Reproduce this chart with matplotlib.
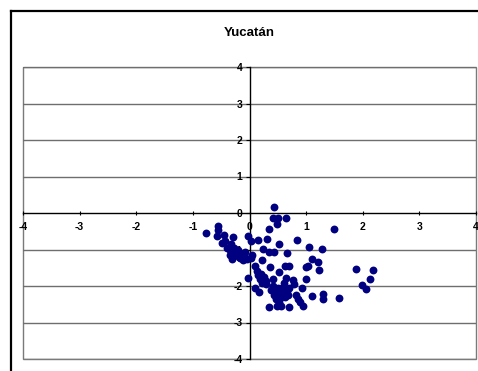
import matplotlib
matplotlib.use("Agg")
import matplotlib.pyplot as plt
from matplotlib.lines import Line2D
from matplotlib.patches import Rectangle

TITLE = "Yucatán"
TICKS = [-4, -3, -2, -1, 0, 1, 2, 3, 4]

# scatter values
x_vals = [0.44, 0.41, 0.50, 0.65, 0.49, 1.49, -0.76, -0.56, -0.55, -0.58,
          -0.48, -0.44, -0.30, -0.32, -0.28, -0.25, -0.35, -0.31, -0.22, -0.16,
          -0.12, -0.19, -0.03, 0.03, 0.15, 0.35, 0.31, 0.52, 0.84, 0.24,
          0.35, 0.44, 0.66, 1.05, 1.28, 0.03, 0.09, 0.22, 0.36, 0.52,
          0.62, 0.69, 0.14, 0.21, 0.25, -0.02, 0.19, 0.22, 0.10, 0.17,
          0.29, 0.41, 0.41, 0.50, 0.64, 0.61, 0.76, 0.78, 0.70, 0.56,
          0.60, 0.66, 0.48, 0.54, 0.46, 0.52, 0.49, 0.35, 0.56, 0.70,
          0.82, 0.85, 0.92, 0.89, 0.94, 1.00, 1.00, 1.03, 1.11, 1.21,
          1.23, 1.11, 1.29, 1.29, 1.58, 1.88, 1.99, 2.05, 2.13, 2.18,
          -0.40, -0.35, -0.20, -0.10, -0.05, -0.28, -0.18, 0.45, 0.55, 0.62,
          0.50, 0.58, 0.68, 0.43, 0.38, 0.30, 0.15, -0.45, -0.08, 0.05]
y_vals = [0.16, -0.14, -0.15, -0.14, -0.30, -0.44, -0.55, -0.35, -0.47, -0.64,
          -0.82, -0.77, -0.65, -0.86, -0.95, -1.05, -1.14, -1.27, -1.16, -1.23,
          -1.30, -1.07, -0.64, -0.77, -0.75, -0.45, -0.70, -0.85, -0.75, -0.98,
          -1.07, -1.07, -1.09, -0.92, -0.98, -1.24, -1.44, -1.30, -1.48, -1.62,
          -1.44, -1.44, -1.59, -1.68, -1.75, -1.77, -1.82, -1.93, -2.05, -2.16,
          -1.95, -1.82, -2.00, -2.05, -1.77, -1.91, -1.84, -1.94, -2.05, -2.11,
          -2.20, -2.14, -2.18, -2.32, -2.36, -2.45, -2.55, -2.58, -2.55, -2.58,
          -2.25, -2.36, -2.06, -2.45, -2.55, -1.82, -1.48, -1.44, -1.27, -1.35,
          -1.57, -2.27, -2.23, -2.35, -2.34, -1.53, -1.98, -2.09, -1.82, -1.57,
          -0.95, -1.00, -1.00, -1.15, -1.25, -1.12, -1.20, -2.10, -2.20, -2.30,
          -2.25, -2.05, -2.25, -2.25, -2.10, -1.85, -1.70, -0.60, -1.08, -1.15]

plt.rcParams["font.family"] = ["Liberation Sans", "DejaVu Sans"]

fig = plt.figure(figsize=(4.78, 3.71), dpi=100)
fig.patch.set_facecolor("white")

# outer chart frame (only left and top edges are visible)
fig.add_artist(Line2D([11 / 478, 11 / 478], [0, 1 - 11 / 371],
                      transform=fig.transFigure, color="black", lw=1.6))
fig.add_artist(Line2D([11 / 478, 1], [1 - 11 / 371, 1 - 11 / 371],
                      transform=fig.transFigure, color="black", lw=1.6))

fig.text(249 / 478, 1 - 33 / 371, TITLE, ha="center", va="center",
         fontsize=9.5, fontweight="heavy")

ax = fig.add_axes([23 / 478, 12 / 371, 453 / 478, 292 / 371])
ax.set_xlim(-4, 4)
ax.set_ylim(-4, 4)

for s in ("top", "right"):
    ax.spines[s].set_visible(False)
ax.spines["left"].set_position(("data", 0))
ax.spines["bottom"].set_position(("data", 0))
ax.spines["left"].set_linewidth(1.0)
ax.spines["bottom"].set_linewidth(1.0)
ax.add_patch(Rectangle((0, 0), 1, 1, transform=ax.transAxes, fill=False,
                       ec="#7a7a7a", lw=1.0, clip_on=False, zorder=0.5))

for t in TICKS:
    if t != 0:
        ax.axhline(t, color="#6e6e6e", lw=1.0, zorder=0.6)

ax.set_xticks(TICKS)
ax.set_yticks(TICKS)
ax.set_xticklabels([str(t) for t in TICKS], fontsize=7.5, fontweight="bold")
ax.set_yticklabels([str(t) for t in TICKS], fontsize=7.5, fontweight="bold")
ax.tick_params(axis="x", direction="inout", length=3, width=0.8, pad=5)
ax.tick_params(axis="y", direction="out", length=3, width=0.8, pad=2)

ax.scatter(x_vals, y_vals, s=32, color="#000080", zorder=3, linewidths=0)

fig.savefig("out.png", dpi=100, facecolor="white")
